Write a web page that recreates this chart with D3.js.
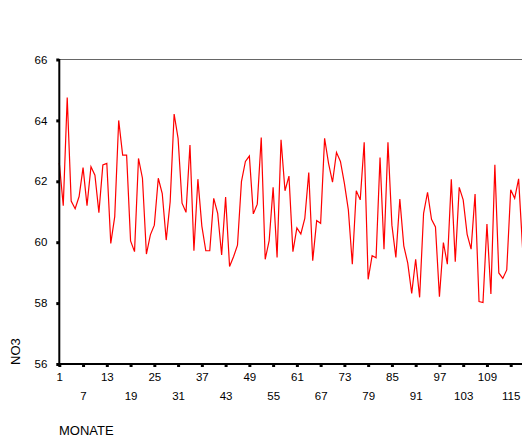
<!DOCTYPE html>
<html>
<head>
<meta charset="utf-8">
<script src="https://cdn.jsdelivr.net/npm/d3@7"></script>
<style>
html,body{margin:0;padding:0;background:#fff;overflow:hidden;}
svg{display:block;font-family:"Liberation Sans",Arial,sans-serif;}
</style>
</head>
<body>
<svg id="chart" width="522" height="443"></svg>
<script>
const months = d3.range(1, 119);
const no3 = [
62.6,61.2,64.75,61.35,61.1,61.5,62.45,61.2,62.48,62.2,
60.97,62.54,62.59,59.96,60.84,64.0,62.86,62.86,60.04,59.69,
62.75,62.1,59.61,60.24,60.56,62.1,61.6,60.07,61.33,64.21,
63.41,61.28,60.98,63.19,59.72,62.07,60.53,59.72,59.72,61.44,
60.95,59.58,61.48,59.2,59.52,59.9,61.99,62.65,62.83,60.93,
61.25,63.44,59.44,60.05,61.8,59.5,63.36,61.69,62.17,59.69,
60.47,60.27,60.78,62.29,59.39,60.71,60.62,63.41,62.59,61.97,
62.95,62.65,61.93,61.06,59.28,61.69,61.39,63.28,58.78,59.56,
59.49,62.78,59.77,63.28,60.56,59.5,61.42,59.88,59.31,58.32,
59.44,58.19,60.95,61.64,60.75,60.5,58.21,59.99,59.28,62.07,
59.36,61.8,61.39,60.26,59.77,61.58,58.05,58.02,60.6,58.3,
62.54,58.99,58.81,59.09,61.72,61.44,62.08,59.8
];
const xTicks = [1,7,13,19,25,31,37,43,49,55,61,67,73,79,85,91,97,103,109,115];
const yTicks = [56,58,60,62,64,66];
const xTitle = "MONATE";
const yTitle = "NO3";

const svg = d3.select("#chart");
const x = d3.scaleLinear().domain([1,120]).range([59.3,530.5]);
const y = d3.scaleLinear().domain([56,66]).range([364,59.5]);

// top frame line
svg.append("line").attr("x1",59.3).attr("x2",540).attr("y1",59.5).attr("y2",59.5)
  .attr("stroke","#666").attr("stroke-width",1);

// data line
const line = d3.line().x((d,i)=>x(months[i])).y(d=>y(d));
svg.append("path").datum(no3).attr("d",line)
  .attr("fill","none").attr("stroke","#ff0000").attr("stroke-width",1.2)
  .attr("stroke-linejoin","miter");

// y axis
const yAxis = d3.axisLeft(y).tickValues(yTicks).tickSize(3).tickPadding(9).tickFormat(d3.format("d"));
const gy = svg.append("g").attr("transform","translate(59.3,0)").call(yAxis);
gy.select(".domain").remove();
gy.selectAll(".tick line").attr("stroke","#000").attr("stroke-width",3);
gy.selectAll(".tick text").attr("font-size","11.5px").attr("fill","#000").attr("font-family","Liberation Sans, Arial, sans-serif");
svg.append("line").attr("x1",59.3).attr("x2",59.3).attr("y1",59).attr("y2",365)
  .attr("stroke","#000").attr("stroke-width",2);

// x axis
const xAxis = d3.axisBottom(x).tickValues(xTicks).tickSize(3).tickPadding(6).tickFormat(d3.format("d"));
const gx = svg.append("g").attr("transform","translate(0,364)").call(xAxis);
gx.select(".domain").remove();
gx.selectAll(".tick line").attr("stroke","#000").attr("stroke-width",3);
gx.selectAll(".tick text").attr("font-size","11.5px").attr("fill","#000")
  .attr("font-family","Liberation Sans, Arial, sans-serif")
  .attr("dy",(d,i)=> i%2===0 ? "0.71em" : "2.35em");
svg.append("line").attr("x1",58.3).attr("x2",540).attr("y1",364).attr("y2",364)
  .attr("stroke","#000").attr("stroke-width",2);

// titles
svg.append("text").attr("x",59).attr("y",435).attr("font-size","13px")
  .attr("fill","#000").text(xTitle);
svg.append("text").attr("transform","translate(20,365) rotate(-90)")
  .attr("font-size","13px").attr("fill","#000").text(yTitle);
</script>
</body>
</html>
